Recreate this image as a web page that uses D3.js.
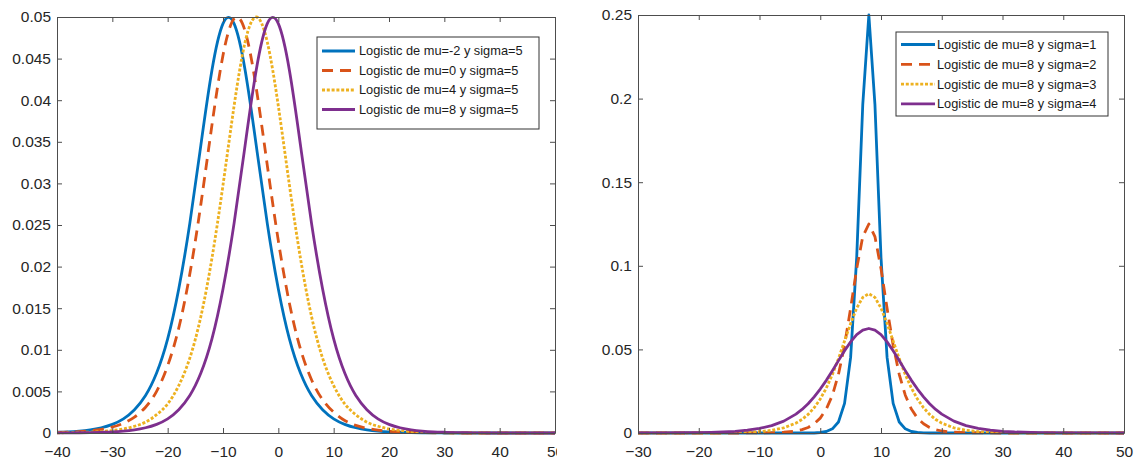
<!DOCTYPE html>
<html>
<head>
<meta charset="utf-8">
<script src="https://cdn.jsdelivr.net/npm/d3@7"></script>
<style>
html,body{margin:0;padding:0;background:#fff;}
svg{display:block;font-family:"Liberation Sans",Arial,sans-serif;}
</style>
</head>
<body>
<svg id="chart" width="1135" height="462"></svg>
<script>
// ---------- DATA ----------
// Left panel
const xLeft = [-40,-38,-36,-34,-32,-30,-28,-26,-24,-22,-20,-18,-16,-14,-12,-10,-8,-6,-4,-2,0,2,4,6,8,10,12,14,16,18,20,22,24,26,28,30,32,34,36,38,40,42,44,46,48,50];
const leftBlue   = [0.00009,0.00014,0.00023,0.00038,0.00063,0.00104,0.0017,0.0028,0.0045,0.0072,0.0113,0.0173,0.0252,0.0346,0.0436,0.0492,0.0492,0.0436,0.0346,0.0252,0.0173,0.0113,0.0072,0.0045,0.0028,0.0017,0.00104,0.00063,0.00038,0.00023,0.00014,0.00009,0.00005,0.00003,0.00002,0,0,0,0,0,0,0,0,0,0,0];
const leftOrange = [0.00006,0.0001,0.00016,0.00027,0.00044,0.00072,0.00117,0.0019,0.0031,0.005,0.0081,0.0126,0.0191,0.0275,0.037,0.0454,0.0498,0.0483,0.0415,0.0322,0.0231,0.0156,0.0101,0.0064,0.004,0.0025,0.0015,0.00092,0.00056,0.00034,0.00021,0.00013,0.00008,0.00005,0.00003,0.00002,0,0,0,0,0,0,0,0,0,0];
const leftYellow = [0.00002,0.00004,0.00007,0.00011,0.00018,0.0003,0.00049,0.00081,0.0013,0.0022,0.0035,0.0057,0.009,0.014,0.021,0.0298,0.0393,0.047,0.05,0.047,0.0393,0.0298,0.021,0.014,0.009,0.0057,0.0035,0.0022,0.0013,0.00081,0.00049,0.0003,0.00018,0.00011,0.00007,0.00004,0.00002,0,0,0,0,0,0,0,0,0];
const leftPurple = [0.00001,0.00002,0.00003,0.00005,0.00009,0.00014,0.00023,0.00038,0.00063,0.00104,0.0017,0.0028,0.0045,0.0072,0.0113,0.0173,0.0252,0.0346,0.0436,0.0492,0.0492,0.0436,0.0346,0.0252,0.0173,0.0113,0.0072,0.0045,0.0028,0.0017,0.00104,0.00063,0.00038,0.00023,0.00014,0.00009,0.00005,0.00003,0.00002,0,0,0,0,0,0,0];
const leftLabels = ["Logistic de mu=-2 y sigma=5","Logistic de mu=0 y sigma=5","Logistic de mu=4 y sigma=5","Logistic de mu=8 y sigma=5"];
const leftXTicks = [-40,-30,-20,-10,0,10,20,30,40,50];
const leftYTicks = [0,0.005,0.01,0.015,0.02,0.025,0.03,0.035,0.04,0.045,0.05];

// Right panel
const xRight = [-30,-26,-22,-20,-18,-16,-14,-12,-10,-8,-6,-4,-3,-2,-1,0,1,2,3,4,5,6,7,8,9,10,11,12,13,14,15,16,17,18,19,20,22,24,26,28,30,32,36,40,46,50];
const rightBlue   = [0,0,0,0,0,0,0,0,0,0,0,0,0,0,0,0.0003,0.0009,0.0025,0.0066,0.0177,0.0452,0.105,0.1966,0.25,0.1966,0.105,0.0452,0.0177,0.0066,0.0025,0.0009,0.0003,0.0001,0,0,0,0,0,0,0,0,0,0,0,0,0];
const rightOrange = [0,0,0,0,0,0,0.00001,0.00002,0.00006,0.00017,0.00046,0.0012,0.002,0.0033,0.0055,0.0089,0.0143,0.0226,0.0351,0.0525,0.0746,0.0983,0.1175,0.125,0.1175,0.0983,0.0746,0.0525,0.0351,0.0226,0.0143,0.0089,0.0055,0.0033,0.002,0.0012,0.00046,0.00017,0.00006,0.00002,0.00001,0,0,0,0,0];
const rightYellow = [0,0.000004,0.000015,0.00003,0.00006,0.00011,0.00022,0.00042,0.00082,0.0016,0.0031,0.0059,0.0081,0.0111,0.0151,0.0203,0.0269,0.035,0.0445,0.055,0.0655,0.0747,0.0811,0.0833,0.0811,0.0747,0.0655,0.055,0.0445,0.035,0.0269,0.0203,0.0151,0.0111,0.0081,0.0059,0.0031,0.0016,0.00082,0.00042,0.00022,0.00011,0.00003,0.000015,0.000002,0];
const rightPurple = [0.00002,0.00005,0.00014,0.00023,0.00038,0.00062,0.001,0.0017,0.0027,0.0044,0.0071,0.0113,0.0141,0.0175,0.0216,0.0263,0.0315,0.0373,0.0433,0.0492,0.0545,0.0588,0.0615,0.0625,0.0615,0.0588,0.0545,0.0492,0.0433,0.0373,0.0315,0.0263,0.0216,0.0175,0.0141,0.0113,0.0071,0.0044,0.0027,0.0017,0.001,0.00062,0.00023,0.00008,0.00002,0.00001];
const rightLabels = ["Logistic de mu=8 y sigma=1","Logistic de mu=8 y sigma=2","Logistic de mu=8 y sigma=3","Logistic de mu=8 y sigma=4"];
const rightXTicks = [-30,-20,-10,0,10,20,30,40,50];
const rightYTicks = [0,0.05,0.1,0.15,0.2,0.25];

// ---------- STYLE ----------
const colors = ["#0072BD","#D95319","#EDB120","#7E2F8E"];
const dashes = [null,"11,7","3,1.8",null];
const axisColor = "#4d4d4d";
const textColor = "#262626";

const svg = d3.select("#chart");
svg.append("rect").attr("width",1135).attr("height",462).attr("fill","#fff");

function panel(opts){
  const g = svg.append("g");
  if (opts.clipW){
    const id = "clip" + Math.random().toString(36).slice(2);
    svg.append("defs").append("clipPath").attr("id",id)
      .append("rect").attr("x",0).attr("y",0).attr("width",opts.clipW).attr("height",462);
    g.attr("clip-path","url(#"+id+")");
  }
  const x = d3.scaleLinear().domain(opts.xDomain).range([opts.left,opts.right]);
  const y = d3.scaleLinear().domain(opts.yDomain).range([opts.bottom,opts.top]);

  // lines
  const line = d3.line().x(d=>x(d[0])).y(d=>y(d[1])).curve(opts.curve);
  opts.series.forEach((s,i)=>{
    const pts = opts.xs.map((xv,j)=>[xv,s[j]]);
    g.append("path").attr("d",line(pts))
      .attr("fill","none").attr("stroke",colors[i]).attr("stroke-width",2.8)
      .attr("stroke-linejoin","round")
      .attr("stroke-dasharray",dashes[i]);
  });

  // axes (MATLAB style box, inward ticks)
  const tl = 5;
  const bottomAx = d3.axisBottom(x).tickValues(opts.xTicks).tickSizeInner(-tl).tickSizeOuter(0).tickPadding(13).tickFormat(d3.format("d"));
  const topAx = d3.axisTop(x).tickValues(opts.xTicks).tickSizeInner(-tl).tickSizeOuter(0).tickFormat("");
  const leftAx = d3.axisLeft(y).tickValues(opts.yTicks).tickSizeInner(-tl).tickSizeOuter(0).tickPadding(6).tickFormat(d=>d===0?"0":String(+d.toFixed(3)));
  const rightAx = d3.axisRight(y).tickValues(opts.yTicks).tickSizeInner(-tl).tickSizeOuter(0).tickFormat("");

  const axes = [
    [bottomAx, `translate(0,${opts.bottom})`],
    [topAx, `translate(0,${opts.top})`],
    [leftAx, `translate(${opts.left},0)`],
    [rightAx, `translate(${opts.right},0)`]
  ];
  axes.forEach(([ax,tr])=>{
    const a = g.append("g").attr("transform",tr).call(ax);
    a.select(".domain").attr("stroke",axisColor).attr("stroke-width",1);
    a.selectAll(".tick line").attr("stroke",axisColor).attr("stroke-width",1);
    a.selectAll(".tick text").attr("fill",textColor).attr("font-size",15.5)
      .attr("font-family","'Liberation Sans',Arial,sans-serif");
  });

  // legend
  const L = opts.legend;
  const lg = g.append("g");
  lg.append("rect").attr("x",L.x).attr("y",L.y).attr("width",L.w).attr("height",L.h)
    .attr("fill","#fff").attr("stroke","#333").attr("stroke-width",1);
  opts.labels.forEach((lab,i)=>{
    const cy = L.y + L.first + i*L.step;
    lg.append("line").attr("x1",L.x+L.lx1).attr("x2",L.x+L.lx2).attr("y1",cy).attr("y2",cy)
      .attr("stroke",colors[i]).attr("stroke-width",2.8).attr("stroke-dasharray",dashes[i]);
    lg.append("text").attr("x",L.x+L.tx).attr("y",cy).attr("dy","0.35em")
      .attr("font-size",12.8).attr("fill","#1a1a1a").text(lab);
  });
}

panel({
  xDomain:[-40,50], yDomain:[0,0.05],
  left:57, right:555, top:17, bottom:433,
  xs:xLeft, series:[leftBlue,leftOrange,leftYellow,leftPurple],
  curve:d3.curveNatural,
  xTicks:leftXTicks, yTicks:leftYTicks, labels:leftLabels,
  clipW:557,
  legend:{x:317,y:37,w:222,h:92,first:14,step:19.5,lx1:5,lx2:38,tx:42}
});

panel({
  xDomain:[-30,50], yDomain:[0,0.25],
  left:638, right:1124, top:15, bottom:433,
  xs:xRight, series:[rightBlue,rightOrange,rightYellow,rightPurple],
  curve:d3.curveLinear,
  xTicks:rightXTicks, yTicks:rightYTicks, labels:rightLabels,
  legend:{x:896,y:32,w:212,h:84,first:12.5,step:19.8,lx1:5,lx2:39,tx:41}
});
</script>
</body>
</html>
